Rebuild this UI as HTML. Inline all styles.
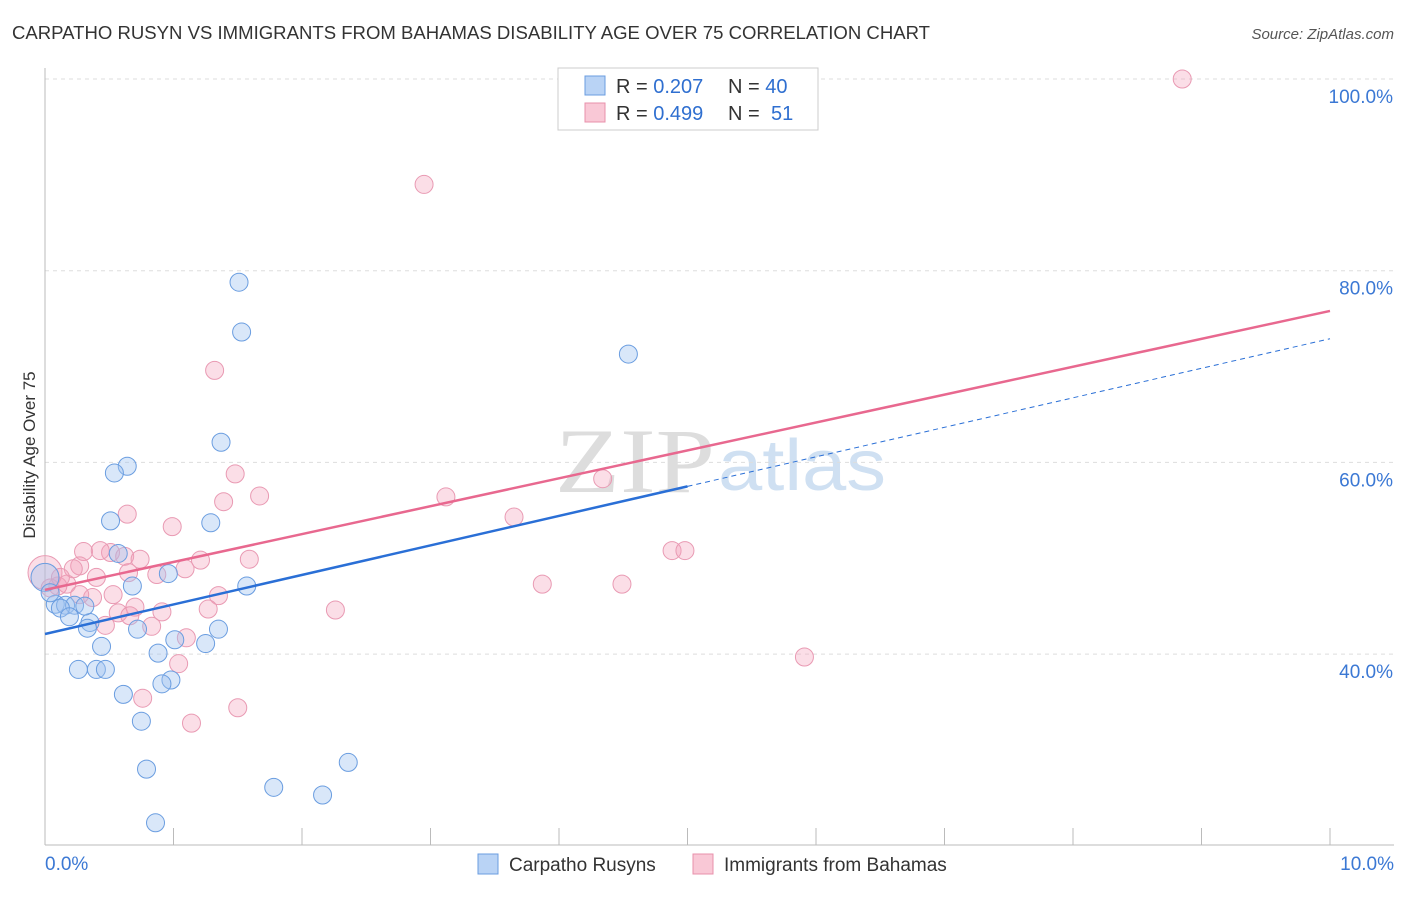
<!DOCTYPE html>
<html><head><meta charset="utf-8"><style>
body{margin:0;background:#fff;font-family:"Liberation Sans",sans-serif}
</style></head><body>
<svg id="c" width="1406" height="892" xmlns="http://www.w3.org/2000/svg">
<text x="12" y="39" font-size="18" fill="#333" textLength="918" lengthAdjust="spacingAndGlyphs">CARPATHO RUSYN VS IMMIGRANTS FROM BAHAMAS DISABILITY AGE OVER 75 CORRELATION CHART</text>
<text x="1394" y="39" font-size="15" fill="#555" text-anchor="end" font-style="italic">Source: ZipAtlas.com</text>
<text x="555" y="492" font-size="92" fill="#ddd" font-family="Liberation Serif" textLength="160" lengthAdjust="spacingAndGlyphs">ZIP</text>
<text x="718" y="490" font-size="72" fill="#cfe0f2" textLength="168" lengthAdjust="spacingAndGlyphs">atlas</text>
<text x="35" y="455" font-size="17" fill="#333" text-anchor="middle" transform="rotate(-90 35 455)">Disability Age Over 75</text>
<g id="grid"></g><g id="pts"></g><g id="lines"></g>
<g>
<rect x="558" y="68" width="260" height="62" fill="#fff" stroke="#ccc"/>
<rect x="585" y="76" width="20" height="19" fill="#b9d3f5" stroke="#6a9de0"/>
<rect x="585" y="103" width="20" height="19" fill="#f9c8d6" stroke="#e890ab"/>
<text x="616" y="93" font-size="20" fill="#333">R = <tspan fill="#2f6fd0">0.207</tspan></text>
<text x="728" y="93" font-size="20" fill="#333">N = <tspan fill="#2f6fd0">40</tspan></text>
<text x="616" y="120" font-size="20" fill="#333">R = <tspan fill="#2f6fd0">0.499</tspan></text>
<text x="728" y="120" font-size="20" fill="#333">N =  <tspan fill="#2f6fd0" x="771">51</tspan></text>
</g>
<g>
<rect x="478" y="854" width="20" height="20" fill="#b9d3f5" stroke="#6a9de0"/>
<text x="509" y="871" font-size="19" fill="#333">Carpatho Rusyns</text>
<rect x="693" y="854" width="20" height="20" fill="#f9c8d6" stroke="#e890ab"/>
<text x="724" y="871" font-size="19" fill="#333">Immigrants from Bahamas</text>
</g>
</svg>
<script>
const yTicks=[40,60,80,100];
const xTickLabels=["0.0%","10.0%"];
const blueX=[1.51,1.53,4.54,1.37,0.64,0.54,0.51,1.29,0.57,0.96,0.68,1.57,0.08,0.16,0.23,0.12,0.19,0.35,0.33,0.72,1.35,1.01,0.44,1.25,0.88,0.26,0.40,0.47,0.98,0.91,0.61,0.75,0.79,2.36,1.78,2.16,0.86,0.0,0.04,0.31];
const blueY=[78.8,73.6,71.3,62.1,59.6,58.9,53.9,53.7,50.5,48.4,47.1,47.1,45.2,45.1,45.1,44.8,43.9,43.3,42.7,42.6,42.6,41.5,40.8,41.1,40.1,38.4,38.4,38.4,37.3,36.9,35.8,33.0,28.0,28.7,26.1,25.3,22.4,48.0,46.4,45.0];
const pinkX=[8.85,2.95,1.32,1.48,4.34,1.67,1.39,3.12,0.64,3.65,0.99,0.30,0.51,0.62,0.74,4.88,4.98,1.59,1.21,0.27,0.22,1.09,0.87,0.40,0.65,0.17,0.10,3.87,4.49,0.53,0.37,1.35,0.70,0.57,0.91,1.27,2.26,0.47,0.83,1.10,1.04,5.91,0.76,1.50,1.14,0.0,0.04,0.12,0.43,0.66,0.27];
const pinkY=[100,89.0,69.6,58.8,58.3,56.5,55.9,56.4,54.6,54.3,53.3,50.7,50.6,50.2,49.9,50.8,50.8,49.9,49.8,49.2,48.9,48.9,48.3,48.0,48.5,47.3,47.1,47.3,47.3,46.2,45.9,46.1,44.9,44.3,44.4,44.7,44.6,43.0,42.9,41.7,39.0,39.7,35.4,34.4,32.8,48.5,46.9,48.0,50.8,44.0,46.2];
const X=v=>45+v*128.5, Y=v=>79+(100-v)*9.585;
const NS="http://www.w3.org/2000/svg";
function mk(tag,attrs,parent){const e=document.createElementNS(NS,tag);for(const k in attrs)e.setAttribute(k,attrs[k]);document.getElementById(parent).appendChild(e);return e;}
yTicks.forEach(t=>{
 const l=mk("line",{x1:45,x2:1394,y1:Y(t),y2:Y(t),stroke:"#ddd","stroke-dasharray":"4,4"},"grid");
 
 
 const tx=mk("text",{x:1393,y:Y(t)+24,"font-size":19,fill:"#3b78d4","text-anchor":"end"},"grid");
 tx.textContent=t.toFixed(1)+"%";
 
 
});
const ax=mk("line",{x1:45,x2:45,y1:68,y2:845,stroke:"#bbb"},"grid");


const bx=mk("line",{x1:45,x2:1394,y1:845,y2:845,stroke:"#bbb"},"grid");


for(let i=1;i<=10;i++){const tk=mk("line",{x1:X(i),x2:X(i),y1:828,y2:845,stroke:"#bbb"},"grid");
 
 }
[[0,"start",45],[10,"end",1394]].forEach((d,i)=>{const tx=mk("text",{x:d[2],y:870,"font-size":19,fill:"#3b78d4","text-anchor":d[1]},"grid");tx.textContent=xTickLabels[i];
 
 });
pinkX.forEach((x,i)=>{const r=i==45?17:9;const c=mk("circle",{cx:X(x),cy:Y(pinkY[i]),r:r,fill:"rgba(244,160,185,0.35)",stroke:"#e99ab3","stroke-width":1},"pts");
 
 });
blueX.forEach((x,i)=>{const r=i==37?14:9;const c=mk("circle",{cx:X(x),cy:Y(blueY[i]),r:r,fill:"rgba(160,195,240,0.4)",stroke:"#6a9de0","stroke-width":1},"pts");
 
 });
const bl=mk("line",{x1:X(0),y1:Y(42.1),x2:X(5),y2:Y(57.5),stroke:"#2a6fd6","stroke-width":2.5},"lines");


const bd=mk("line",{x1:X(5),y1:Y(57.5),x2:X(10),y2:Y(72.9),stroke:"#2a6fd6","stroke-width":1,"stroke-dasharray":"5,4"},"lines");


const pl=mk("line",{x1:X(0),y1:Y(46.7),x2:X(10),y2:Y(75.8),stroke:"#e8688f","stroke-width":2.5},"lines");


</script>
</body></html>
